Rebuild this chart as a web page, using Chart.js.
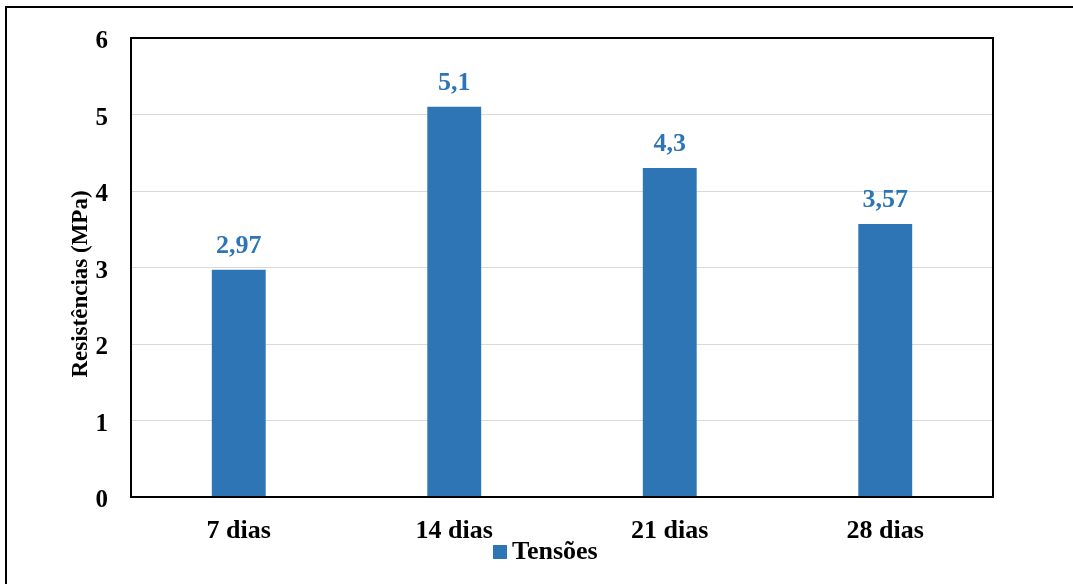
<!DOCTYPE html>
<html>
<head>
<meta charset="utf-8">
<script src="https://cdn.jsdelivr.net/npm/chart.js@4/dist/chart.umd.min.js"></script>
<style>
  html, body { margin: 0; padding: 0; background: #ffffff; }
  #wrap { width: 1073px; height: 584px; position: relative; }
</style>
</head>
<body>
<div id="wrap"><canvas id="c" width="1073" height="584"></canvas></div>
<script>
// Compressive strength by curing age
const categories = ['7 dias', '14 dias', '21 dias', '28 dias'];
const tensoes = [2.97, 5.1, 4.3, 3.57];
const valueLabels = ['2,97', '5,1', '4,3', '3,57'];
const yTicks = [0, 1, 2, 3, 4, 5, 6];
const yTitle = 'Resistências (MPa)';
const seriesName = 'Tensões';

const SERIF = '"Liberation Serif", "Times New Roman", serif';
const BLUE = '#2E75B6';

// White background plus the outer frame of the figure
const framePlugin = {
  id: 'frame',
  beforeDraw(chart) {
    const ctx = chart.ctx;
    ctx.save();
    ctx.fillStyle = '#ffffff';
    ctx.fillRect(0, 0, chart.width, chart.height);
    ctx.strokeStyle = '#000000';
    ctx.lineWidth = 2;
    ctx.beginPath();
    ctx.moveTo(6, chart.height + 5);
    ctx.lineTo(6, 7);
    ctx.lineTo(chart.width + 5, 7);
    ctx.stroke();
    ctx.restore();
  },
  afterDraw(chart) {
    const a = chart.chartArea;
    const ctx = chart.ctx;
    ctx.save();
    // plot area border
    ctx.strokeStyle = '#000000';
    ctx.lineWidth = 2;
    ctx.strokeRect(a.left, a.top, a.right - a.left, a.bottom - a.top);

    // vertical axis title
    ctx.fillStyle = '#000000';
    ctx.font = 'bold 23px ' + SERIF;
    ctx.textAlign = 'center';
    ctx.textBaseline = 'alphabetic';
    ctx.translate(87, 284);
    ctx.rotate(-Math.PI / 2);
    ctx.fillText(yTitle, 0, 0);
    ctx.restore();

    // legend entry below the category labels
    const ds = chart.data.datasets[0];
    ctx.save();
    ctx.fillStyle = ds.backgroundColor;
    ctx.fillRect(493, 545, 14, 14);
    ctx.fillStyle = '#000000';
    ctx.font = 'bold 26px ' + SERIF;
    ctx.textAlign = 'left';
    ctx.textBaseline = 'alphabetic';
    ctx.fillText(ds.label, 512, 559);
    ctx.restore();
  }
};

// Value labels above each bar
const valueLabelPlugin = {
  id: 'valueLabels',
  afterDatasetsDraw(chart) {
    const ctx = chart.ctx;
    const meta = chart.getDatasetMeta(0);
    ctx.save();
    ctx.fillStyle = BLUE;
    ctx.font = 'bold 26px ' + SERIF;
    ctx.textAlign = 'center';
    ctx.textBaseline = 'alphabetic';
    meta.data.forEach((bar, i) => {
      ctx.fillText(valueLabels[i], bar.x, bar.y - 17);
    });
    ctx.restore();
  }
};

new Chart(document.getElementById('c'), {
  type: 'bar',
  data: {
    labels: categories,
    datasets: [{
      label: seriesName,
      data: tensoes,
      backgroundColor: BLUE,
      borderWidth: 0,
      categoryPercentage: 1,
      barPercentage: 0.25
    }]
  },
  options: {
    responsive: false,
    animation: false,
    devicePixelRatio: 1,
    layout: { padding: { left: 0, right: 80, top: 38, bottom: 0 } },
    plugins: {
      legend: { display: false },
      tooltip: { enabled: false }
    },
    scales: {
      x: {
        grid: { display: false },
        border: { display: false },
        ticks: {
          color: '#000000',
          font: { family: SERIF, size: 26, weight: 'bold' },
          padding: 11
        },
        afterFit(scale) { scale.height = 87; }
      },
      y: {
        min: 0,
        max: 6,
        afterBuildTicks(scale) { scale.ticks = yTicks.map(v => ({ value: v })); },
        grid: { color: '#d9d9d9', lineWidth: 1, drawTicks: false },
        border: { display: false },
        ticks: {
          color: '#000000',
          font: { family: SERIF, size: 25, weight: 'bold', lineHeight: '8px' },
          padding: 23,
          // empty first line nudges each number a few pixels below its gridline
          callback: (value) => ['', String(value)]
        },
        afterFit(scale) { scale.width = 131; }
      }
    }
  },
  plugins: [framePlugin, valueLabelPlugin]
});
</script>
</body>
</html>
